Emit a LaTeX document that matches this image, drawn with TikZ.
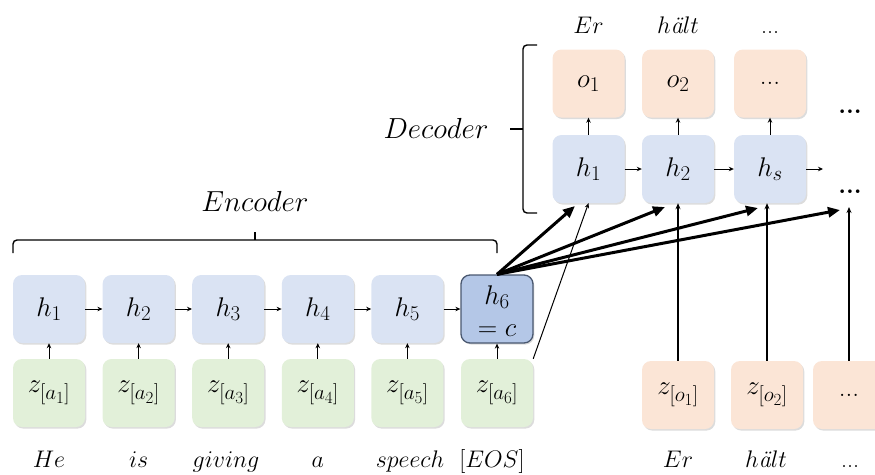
\RequirePackage{fix-cm}
\documentclass[tikz,border=0pt]{standalone}
\usepackage{amsmath}
\usepackage{fontspec}
\usetikzlibrary{arrows.meta,shadows}

% sizes of text and math
\newcommand\boxfont{\fontsize{27}{33}\selectfont}
\newcommand\wordfont{\fontsize{24}{28}\selectfont}
\newcommand\titlefont{\fontsize{29}{34}\selectfont}
\newcommand\dotfont{\fontsize{25}{29}\selectfont\bfseries}
\DeclareMathSizes{27}{27}{21}{17}
\DeclareMathSizes{24}{24}{18}{14}
\DeclareMathSizes{29}{29}{21}{16}
\newcommand\halt{$h\text{\itshape ä}lt$}

% cell colours
\definecolor{hidblue}{HTML}{DAE3F3}
\definecolor{ctxblue}{HTML}{B4C7E7}
\definecolor{ctxedge}{HTML}{4A5870}
\definecolor{ingreen}{HTML}{E2F0D9}
\definecolor{outorange}{HTML}{FBE5D6}

\begin{document}
\begin{tikzpicture}[x=1pt,y=-1pt,
  cell/.style={rounded corners=9pt, minimum width=72pt, minimum height=68pt,
    inner sep=0pt, font=\boxfont,
    drop shadow={shadow xshift=1.3pt, shadow yshift=-1.6pt, opacity=0.3, fill=black!45}},
  hcell/.style={cell, fill=hidblue},
  zcell/.style={cell, fill=ingreen},
  ocell/.style={cell, fill=outorange},
  ctxcell/.style={cell, fill=ctxblue, draw=ctxedge, line width=1.3pt},
  word/.style={font=\wordfont, anchor=base, inner sep=0pt},
  title/.style={font=\titlefont, anchor=base, inner sep=0pt},
  bolddots/.style={font=\dotfont, anchor=base, inner sep=0pt},
  thinarrow/.style={line width=1pt, -{Stealth[length=5pt,width=4.5pt]}},
  longarrow/.style={line width=1.3pt, -{Stealth[length=6pt,width=5pt]}},
  thickarrow/.style={line width=3pt, -{Triangle[length=12pt,width=10pt]}},
  bracket/.style={line width=1.4pt}
]
\useasboundingbox (0,0) rectangle (875,474);
\clip (0,0) rectangle (875,474);

% ---------- encoder ----------
\foreach \i/\x in {1/49,2/138.6,3/228.2,4/317.8,5/407.4} {
  \node[hcell] (e\i) at (\x,309) {$h_{\i}$};
  \node[zcell] (a\i) at (\x,393) {$z_{[a_{\i}]}$};
}
\node[ctxcell] (e6) at (497,309) {};
\node[font=\boxfont, anchor=base, inner sep=0pt] (e6top) at (497,304) {$h_6$};
\node[font=\boxfont, anchor=base, inner sep=0pt] (e6bot) at (497,336) {$=c$};
\node[zcell] (a6) at (497,393) {$z_{[a_6]}$};

\foreach \i in {1,...,6} \draw[thinarrow] (a\i) -- (e\i);
\foreach \i/\j in {1/2,2/3,3/4,4/5,5/6} \draw[thinarrow] (e\i) -- (e\j);

\node[word] (w1) at (49,467) {$He$};
\node[word] (w2) at (138.6,467) {$is$};
\node[word] (w3) at (226,467) {$giving$};
\node[word] (w4) at (317.8,467) {$a$};
\node[word] (w5) at (410,467) {$speech$};
\node[word] (w6) at (492,467) {$[EOS]$};

% encoder brace
\draw[bracket, rounded corners=4pt] (13,253) -- (13,240) -- (497,240) -- (497,253);
\draw[bracket] (255,240) -- (255,232);
\node[title] (enc) at (255,211) {$Encoder$};

% ---------- decoder ----------
\node[hcell] (d1) at (588.5,169) {$h_1$};
\node[hcell] (d2) at (678,169) {$h_2$};
\node[hcell] (d3) at (770,169) {$h_s$};
\node[ocell] (o1) at (588.5,83.5) {$o_1$};
\node[ocell] (o2) at (678,83.5) {$o_2$};
\node[ocell] (o3) at (770,83.5) {...};

\foreach \i in {1,2,3} \draw[thinarrow] (d\i) -- (o\i);
\draw[thinarrow] (d1) -- (d2);
\draw[thinarrow] (d2) -- (d3);
\coordinate (hend) at (823,169);
\draw[thinarrow] (d3.east) -- (hend);

\node[word] (t1) at (588.5,33) {$Er$};
\node[word] (t2) at (678,33) {\halt};
\node[word] (t3) at (770,33) {...};

\node[bolddots] (m1) at (850,113) {...};
\node[bolddots] (m2) at (850,193) {...};

% decoder brace
\draw[bracket, rounded corners=4pt] (537,45) -- (523,45) -- (523,213) -- (537,213);
\draw[bracket] (523,129) -- (510,129);
\node[title] (dec) at (436,138) {$Decoder$};

% ---------- decoder inputs ----------
\node[ocell] (b1) at (678,395) {$z_{[o_1]}$};
\node[ocell] (b2) at (767,395) {$z_{[o_2]}$};
\node[ocell] (b3) at (849,395) {...};

\node[word] (u1) at (678,467) {$Er$};
\node[word] (u2) at (766,467) {\halt};
\node[word] (u3) at (850,467) {...};

\coordinate (dn) at (849,207);
\draw[longarrow] (b1) -- (d2);
\draw[longarrow] (b2.north) -- (b2.north |- d3.south);
\draw[longarrow] (b3.north) -- (dn);

% context vector fed to every decoder step
\coordinate (c1) at (575,206);
\coordinate (c2) at (665,207);
\coordinate (c3) at (758,208);
\coordinate (c4) at (840,210);
\foreach \k in {1,...,4} \draw[thickarrow] (e6.north) -- (c\k);
\draw[thinarrow] (a6.north east) -- (d1.south);
\end{tikzpicture}
\end{document}
